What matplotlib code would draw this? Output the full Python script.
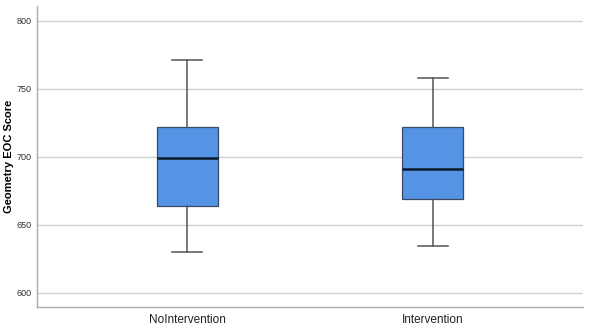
import matplotlib
matplotlib.use('Agg')
import matplotlib.pyplot as plt

plt.rcParams['font.family'] = ['Liberation Sans', 'DejaVu Sans']

# дані
groups = ['NoIntervention', 'Intervention']
whisker_low = [630, 634]
q1 = [664, 669]
median = [699, 691]
q3 = [722, 722]
whisker_high = [771, 758]
yticks = [600, 650, 700, 750, 800]

stats = []
for i, name in enumerate(groups):
    stats.append({'label': name, 'whislo': whisker_low[i], 'q1': q1[i], 'med': median[i],
                  'q3': q3[i], 'whishi': whisker_high[i], 'fliers': []})

fig = plt.figure(figsize=(5.94, 3.3), dpi=100)
ax = fig.add_axes([0.0623, 0.0697, 0.9192, 0.9121])

ax.bxp(stats, positions=[1, 2], widths=0.248, patch_artist=True, showfliers=False,
       boxprops=dict(facecolor='#5593E4', edgecolor='#3a4a66', linewidth=0.9),
       medianprops=dict(color='#0d1a2e', linewidth=1.8),
       whiskerprops=dict(color='#555555', linewidth=1.1),
       capprops=dict(color='#555555', linewidth=1.1),
       capwidths=0.122, zorder=3)

ax.set_xlim(0.389, 2.611)
ax.set_ylim(589.4, 811)
ax.set_yticks(yticks)
ax.set_yticklabels([str(t) for t in yticks], fontsize=6.5, color='#333333')
ax.set_xticks([1, 2])
ax.set_xticklabels(groups, fontsize=8.5, color='#222222')
ax.tick_params(axis='y', length=0, pad=4)
ax.tick_params(axis='x', length=0, pad=5)
ax.set_ylabel('Geometry EOC Score', fontsize=8, fontweight='bold')
ax.yaxis.set_label_coords(-0.043, 0.5)

ax.grid(True, axis='y', color='#d0d0d0', linewidth=1.0, zorder=0)
ax.set_axisbelow(True)
for side in ['top', 'right']:
    ax.spines[side].set_visible(False)
for side in ['left', 'bottom']:
    ax.spines[side].set_color('#aaaaaa')
    ax.spines[side].set_linewidth(1.0)

fig.savefig('out.png', dpi=100)
